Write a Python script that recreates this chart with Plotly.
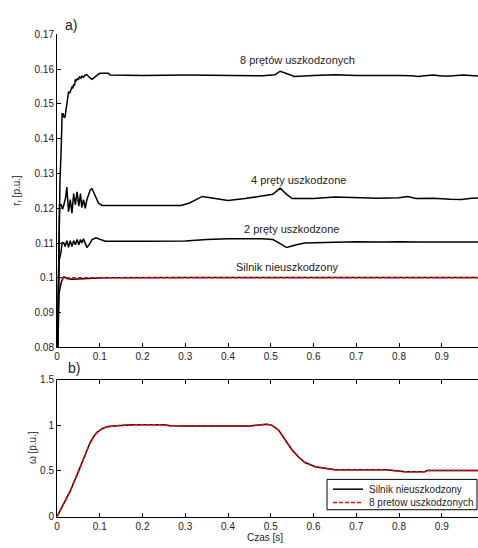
import plotly.graph_objects as go

# ---------------- data ----------------
tick_x = [0, 0.1, 0.2, 0.3, 0.4, 0.5, 0.6, 0.7, 0.8, 0.9]
tick_x_text = ["0", "0.1", "0.2", "0.3", "0.4", "0.5", "0.6", "0.7", "0.8", "0.9"]
tick_y1 = [0.08, 0.09, 0.10, 0.11, 0.12, 0.13, 0.14, 0.15, 0.16, 0.17]
tick_y1_text = ["0.08", "0.09", "0.1", "0.11", "0.12", "0.13", "0.14", "0.15", "0.16", "0.17"]
tick_y2 = [0, 0.5, 1, 1.5]
tick_y2_text = ["0", "0.5", "1", "1.5"]
legend_names = ["Silnik nieuszkodzony", "8 pretow uszkodzonych"]

# 8 broken bars
t8 = [0.000, 0.004, 0.007, 0.010, 0.012, 0.014, 0.017, 0.019, 0.023, 0.027,
      0.030, 0.033, 0.035, 0.037, 0.039, 0.041, 0.043, 0.045, 0.048, 0.050,
      0.053, 0.056, 0.058, 0.062, 0.066, 0.070, 0.074, 0.078, 0.082, 0.086,
      0.090, 0.094, 0.100, 0.105, 0.120, 0.125, 0.200, 0.300, 0.400, 0.480,
      0.510, 0.522, 0.540, 0.555, 0.600, 0.650, 0.700, 0.750, 0.800, 0.830,
      0.845, 0.860, 0.880, 0.900, 0.920, 0.950, 0.970, 0.990]
r8 = [0.070, 0.110, 0.128, 0.138, 0.1472, 0.1472, 0.1460, 0.1464, 0.1506, 0.1534,
      0.1532, 0.1540, 0.1548, 0.1545, 0.1557, 0.1552, 0.1571, 0.1565, 0.1574, 0.1570,
      0.1578, 0.1574, 0.1580, 0.1577, 0.1583, 0.1584, 0.1578, 0.1574, 0.1571, 0.1576,
      0.1580, 0.1583, 0.1588, 0.1588, 0.1588, 0.1583, 0.1582, 0.1583, 0.1582, 0.1581,
      0.1584, 0.1594, 0.1586, 0.1579, 0.1582, 0.1584, 0.1582, 0.1583, 0.1582, 0.1581,
      0.1579, 0.1581, 0.1583, 0.1580, 0.1580, 0.1583, 0.1581, 0.1580]

# 4 broken bars
t4 = [0.000, 0.003, 0.006, 0.010, 0.013, 0.016, 0.020, 0.023, 0.027, 0.031,
      0.035, 0.039, 0.043, 0.047, 0.051, 0.055, 0.058, 0.062, 0.066, 0.070,
      0.074, 0.078, 0.082, 0.086, 0.089, 0.093, 0.097, 0.105, 0.113, 0.200,
      0.290, 0.310, 0.340, 0.370, 0.400, 0.440, 0.480, 0.505, 0.522, 0.537,
      0.550, 0.600, 0.650, 0.700, 0.750, 0.800, 0.820, 0.840, 0.880, 0.920,
      0.946, 0.970, 0.990]
r4 = [0.070, 0.100, 0.121, 0.121, 0.1197, 0.1210, 0.1230, 0.1261, 0.1190, 0.1225,
      0.1186, 0.1242, 0.1210, 0.1247, 0.1206, 0.1242, 0.1202, 0.1225, 0.1200, 0.1225,
      0.1240, 0.1253, 0.1256, 0.1245, 0.1233, 0.1222, 0.1215, 0.1208, 0.1208, 0.1208,
      0.1208, 0.1215, 0.1234, 0.1228, 0.1222, 0.1228, 0.1236, 0.1240, 0.1258, 0.1240,
      0.1228, 0.1228, 0.1232, 0.1230, 0.1229, 0.1230, 0.1234, 0.1228, 0.1229, 0.1226,
      0.1225, 0.1229, 0.1230]

# 2 broken bars
t2 = [0.000, 0.005, 0.009, 0.012, 0.016, 0.019, 0.023, 0.027, 0.031, 0.035,
      0.039, 0.043, 0.047, 0.051, 0.055, 0.058, 0.062, 0.066, 0.070, 0.076,
      0.082, 0.091, 0.105, 0.113, 0.200, 0.300, 0.350, 0.400, 0.480, 0.505,
      0.520, 0.537, 0.560, 0.580, 0.650, 0.700, 0.760, 0.800, 0.850, 0.900,
      0.950, 0.990]
r2 = [0.070, 0.1050, 0.1070, 0.1101, 0.1100, 0.1090, 0.1107, 0.1088, 0.1107, 0.1090,
      0.1107, 0.1095, 0.1110, 0.1095, 0.1110, 0.1100, 0.1112, 0.1098, 0.1087, 0.1097,
      0.1110, 0.1115, 0.1110, 0.1105, 0.1105, 0.1106, 0.1110, 0.1112, 0.1112, 0.1110,
      0.1100, 0.1087, 0.1095, 0.1100, 0.1102, 0.1104, 0.1103, 0.1104, 0.1103, 0.1104,
      0.1103, 0.1103]

# healthy motor
t0 = [0.000, 0.003, 0.005, 0.010, 0.016, 0.023, 0.035, 0.060, 0.100, 0.110, 0.300, 0.600, 0.990]
r0 = [0.070, 0.090, 0.0957, 0.0988, 0.1003, 0.0998, 0.0996, 0.0997, 0.0998, 0.1000, 0.1001, 0.1001, 0.1001]

# red dashed reference in (a)
t_ref = [0.007, 0.990]
r_ref = [0.1000, 0.1000]

# speed (b)
tw = [0.000, 0.030, 0.054, 0.077, 0.085, 0.093, 0.105, 0.116, 0.140, 0.178,
      0.250, 0.265, 0.300, 0.450, 0.490, 0.502, 0.518, 0.533, 0.549, 0.565,
      0.580, 0.604, 0.627, 0.650, 0.770, 0.790, 0.814, 0.860, 0.867, 0.990]
w_healthy = [0.000, 0.270, 0.538, 0.805, 0.870, 0.920, 0.960, 0.984, 0.995, 1.005,
             1.005, 0.995, 0.991, 0.993, 1.010, 1.002, 0.949, 0.842, 0.735, 0.652,
             0.592, 0.545, 0.527, 0.513, 0.513, 0.505, 0.492, 0.492, 0.506, 0.506]
w_8bars = [0.000, 0.270, 0.538, 0.805, 0.870, 0.920, 0.960, 0.984, 0.995, 1.005,
           1.005, 0.995, 0.991, 0.993, 1.010, 1.002, 0.949, 0.842, 0.735, 0.652,
           0.592, 0.545, 0.527, 0.513, 0.513, 0.505, 0.492, 0.492, 0.506, 0.506]

# ---------------- layout helpers ----------------
W, H = 478, 548
ML, MR, MT, MB = 57, 0, 0, 0
PW, PH = W - ML - MR, H - MT - MB


def px(x):
    return (x - ML) / PW


def py(y):
    return 1 - (y - MT) / PH


FONT = "Liberation Sans, Arial, sans-serif"
TXT = "#222222"
DASH = "4px,2px"

fig = go.Figure()
line_k = dict(color="black", width=1.5)
for tt, vv in [(t8, r8), (t4, r4), (t2, r2), (t0, r0)]:
    fig.add_trace(go.Scatter(x=tt, y=vv, mode="lines", line=line_k,
                             showlegend=False, xaxis="x", yaxis="y"))
fig.add_trace(go.Scatter(x=t_ref, y=r_ref, mode="lines",
                         line=dict(color="red", width=1.5, dash=DASH),
                         showlegend=False, xaxis="x", yaxis="y"))

fig.add_trace(go.Scatter(x=tw, y=w_healthy, mode="lines", name=legend_names[0],
                         line=dict(color="black", width=1.5), showlegend=False,
                         xaxis="x2", yaxis="y2"))
fig.add_trace(go.Scatter(x=tw, y=w_8bars, mode="lines", name=legend_names[1],
                         line=dict(color="red", width=1.5, dash=DASH), showlegend=False,
                         xaxis="x2", yaxis="y2"))

xr = [0, PW / 427.5]
common_ax = dict(showline=True, linecolor="black", linewidth=1, showgrid=False,
                 zeroline=False, ticks="inside", ticklen=4, tickcolor="black",
                 tickfont=dict(family=FONT, size=10, color=TXT))

fig.update_layout(
    width=W, height=H,
    margin=dict(l=ML, r=MR, t=MT, b=MB),
    paper_bgcolor="white", plot_bgcolor="white",
    font=dict(family=FONT, size=10, color=TXT),
    showlegend=False,
    xaxis=dict(domain=[0, 1], range=xr, anchor="y", tickvals=tick_x,
               ticktext=tick_x_text, **common_ax),
    yaxis=dict(domain=[py(349), py(29)], range=[0.08, 0.17], anchor="x",
               tickvals=tick_y1, ticktext=tick_y1_text, **common_ax),
    xaxis2=dict(domain=[0, 1], range=xr, anchor="y2", tickvals=tick_x,
                ticktext=tick_x_text, mirror="ticks", **common_ax),
    yaxis2=dict(domain=[py(522), py(382)], range=[0, 1.5], anchor="x2",
                tickvals=tick_y2, ticktext=tick_y2_text, **common_ax),
)

# compact boxed legend (as in the reference)
fig.add_shape(type="rect", xref="paper", yref="paper",
              x0=px(327), x1=px(477), y0=py(515), y1=py(484),
              line=dict(color="black", width=1), fillcolor="white", layer="above")
leg_styles = [dict(color="black", width=1.5), dict(color="red", width=1.5, dash=DASH)]
for i, (name, st) in enumerate(zip(legend_names, leg_styles)):
    yy = 494 + i * 13.5
    fig.add_shape(type="line", xref="paper", yref="paper",
                  x0=px(333), x1=px(363), y0=py(yy), y1=py(yy), line=st, layer="above")
    fig.add_annotation(text=name, x=px(367), y=py(yy), xref="paper", yref="paper",
                       showarrow=False, xanchor="left", yanchor="middle",
                       font=dict(family=FONT, size=10, color=TXT))

ann = [
    ("8 prętów uszkodzonych", 297, 55, 0, 11),
    ("4 pręty uszkodzone", 298, 178, 0, 11),
    ("2 pręty uszkodzone", 291, 228, 0, 11),
    ("Silnik nieuszkodzony", 287, 267, 0, 11),
    ("a)", 71, 19, 0, 14),
    ("b)", 74, 370, 0, 14),
    ("Czas [s]", 265, 543, 0, 10),
    ("r<sub>r</sub> [p.u.]", 17, 189, -90, 10),
    ("ω [p.u.]", 32, 452, -90, 10),
]
for text, x, y, ang, size in ann:
    fig.add_annotation(text=text, x=px(x), y=py(y), xref="paper", yref="paper",
                       showarrow=False, xanchor="center", yanchor="middle",
                       textangle=ang, font=dict(family=FONT, size=size, color=TXT))

fig.write_html("out.html")
